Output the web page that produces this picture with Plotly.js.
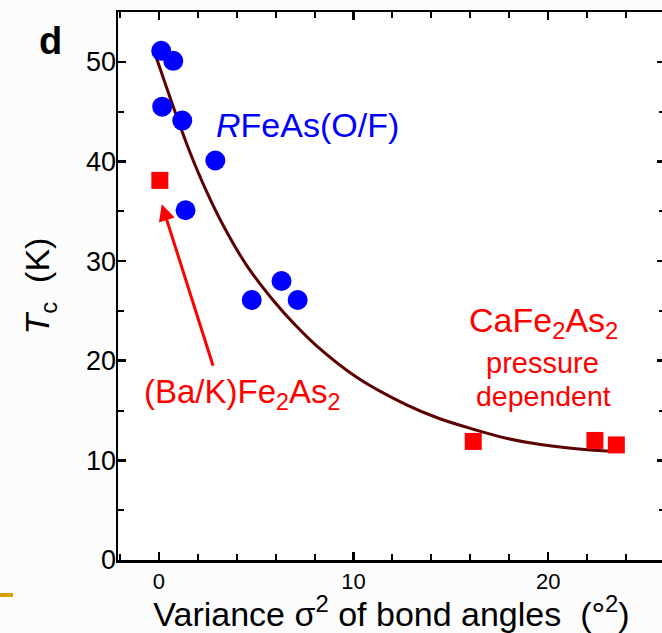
<!DOCTYPE html>
<html>
<head>
<meta charset="utf-8">
<script src="https://cdn.plot.ly/plotly-3.0.1.min.js"></script>
<style>
  html, body { margin: 0; padding: 0; overflow: hidden; background: #fcfcfc; }
  #chart { width: 670px; height: 633px; }
</style>
</head>
<body>
<div id="chart"></div>
<script>
// RFeAs(O/F) points (blue circles)
const rfeasX = [0.12, 0.74, 0.17, 1.2, 2.9, 1.37, 4.77, 6.3, 7.13];
const rfeasY = [51.1, 50.1, 45.5, 44.1, 40.1, 35.1, 26.1, 28.0, 26.1];

// (Ba/K)Fe2As2 and CaFe2As2 points (red squares)
const fe2as2X = [0.05, 16.15, 22.4, 23.5];
const fe2as2Y = [38.1, 11.9, 12.0, 11.55];

// Guide curve
const curveX = [-0.2, 0.4, 0.9, 1.6, 2.4, 3.3, 4.5, 5.9, 7.0, 8.1, 10.2, 12.7, 14.4, 16.2, 17.9, 19.6, 21.3, 23.0, 23.9];
const curveY = [50.8, 47.4, 44.6, 40.9, 37.2, 33.6, 29.6, 26.0, 23.6, 21.5, 18.3, 15.6, 14.2, 13.1, 12.2, 11.6, 11.2, 10.95, 10.9];

// Axis ticks
const xTicks = [0, 10, 20];
const yTicks = [0, 10, 20, 30, 40, 50];

const FONT = "Liberation Sans, Arial, Helvetica, sans-serif";

const traces = [
  {
    x: curveX, y: curveY, type: 'scatter', mode: 'lines',
    line: { color: '#5c0000', width: 3, shape: 'spline', smoothing: 1 },
    hoverinfo: 'skip', showlegend: false
  },
  {
    x: rfeasX, y: rfeasY, type: 'scatter', mode: 'markers', name: 'RFeAs(O/F)',
    marker: { symbol: 'circle', size: 20, color: '#0000ff' }, showlegend: false
  },
  {
    x: fe2as2X, y: fe2as2Y, type: 'scatter', mode: 'markers', name: 'Fe2As2',
    marker: { symbol: 'square', size: 17, color: '#ff0000' }, showlegend: false
  }
];

const axisCommon = {
  showline: true, linecolor: '#000', linewidth: 2.5, mirror: 'ticks',
  ticks: 'inside', ticklen: 8, tickwidth: 2.5, tickcolor: '#000',
  showgrid: false, zeroline: false
};

const layout = {
  width: 670, height: 633,
  margin: { l: 118, r: 5, t: 12, b: 73 },
  paper_bgcolor: '#fcfcfc', plot_bgcolor: '#ffffff',
  font: { family: FONT, color: '#000' },
  xaxis: Object.assign({}, axisCommon, {
    range: [-2.1, 26], tickvals: xTicks, ticktext: xTicks.map(String),
    tickfont: { size: 22, family: FONT },
    minor: { dtick: 2, tick0: 0, ticks: 'inside', ticklen: 6, tickwidth: 2, tickcolor: '#000' },
    title: { text: 'Variance σ<sup>2</sup> of bond angles\u00a0\u00a0(°<sup>2</sup>)', font: { size: 34, family: FONT }, standoff: 4 }
  }),
  yaxis: Object.assign({}, axisCommon, {
    range: [0, 55], tickvals: yTicks, ticktext: yTicks.map(String),
    tickfont: { size: 27, family: FONT },
    minor: { dtick: 5, tick0: 0, ticks: 'inside', ticklen: 6, tickwidth: 2, tickcolor: '#000' },
    title: { text: '<i>T</i><sub>c</sub>\u00a0\u00a0(K)\u00a0\u00a0\u00a0', font: { size: 34, family: FONT }, standoff: 20 }
  }),
  annotations: [
    { xref: 'paper', yref: 'paper', x: -0.1225, y: 0.947, text: '<b>d</b>', showarrow: false,
      font: { size: 38, family: FONT, color: '#000' }, xanchor: 'center', yanchor: 'middle' },
    { x: 7.66, y: 43.7, text: '<i>R</i>FeAs(O/F)', showarrow: false,
      font: { size: 34, family: FONT, color: '#0000ff' }, xanchor: 'center', yanchor: 'middle' },
    { x: 4.25, y: 16.7, text: '(Ba/K)Fe<sub>2</sub>As<sub>2</sub>', showarrow: false,
      font: { size: 33, family: FONT, color: '#ff0000' }, xanchor: 'center', yanchor: 'middle' },
    { x: 0.15, y: 35.7, ax: 54, ay: 170, axref: 'pixel', ayref: 'pixel', text: ' ', showarrow: true,
      arrowhead: 2, arrowsize: 1.1, arrowwidth: 3, arrowcolor: '#ff0000', standoff: 0 },
    { x: 19.78, y: 23.8, text: 'CaFe<sub>2</sub>As<sub>2</sub>', showarrow: false,
      font: { size: 34, family: FONT, color: '#ff0000' }, xanchor: 'center', yanchor: 'middle' },
    { x: 19.7, y: 19.8, text: 'pressure', showarrow: false,
      font: { size: 29, family: FONT, color: '#ff0000' }, xanchor: 'center', yanchor: 'middle' },
    { x: 19.75, y: 16.5, text: 'dependent', showarrow: false,
      font: { size: 28.5, family: FONT, color: '#ff0000' }, xanchor: 'center', yanchor: 'middle' }
  ],
  shapes: [
    { type: 'line', xref: 'paper', yref: 'paper', x0: -0.2157, x1: -0.192, y0: -0.0638, y1: -0.0638,
      line: { color: '#d4a000', width: 4 } }
  ]
};

const gd = document.getElementById('chart');
function nudgeYLabels() {
  // Bring the y tick labels a little closer to the axis line, as in the reference
  gd.querySelectorAll('.ytick text').forEach(function (el) {
    el.setAttribute('dx', '6');
  });
}
Plotly.newPlot(gd, traces, layout, { displayModeBar: false, staticPlot: true }).then(function () {
  nudgeYLabels();
  gd.on('plotly_afterplot', nudgeYLabels);
  setTimeout(nudgeYLabels, 0);
});
</script>
</body>
</html>
